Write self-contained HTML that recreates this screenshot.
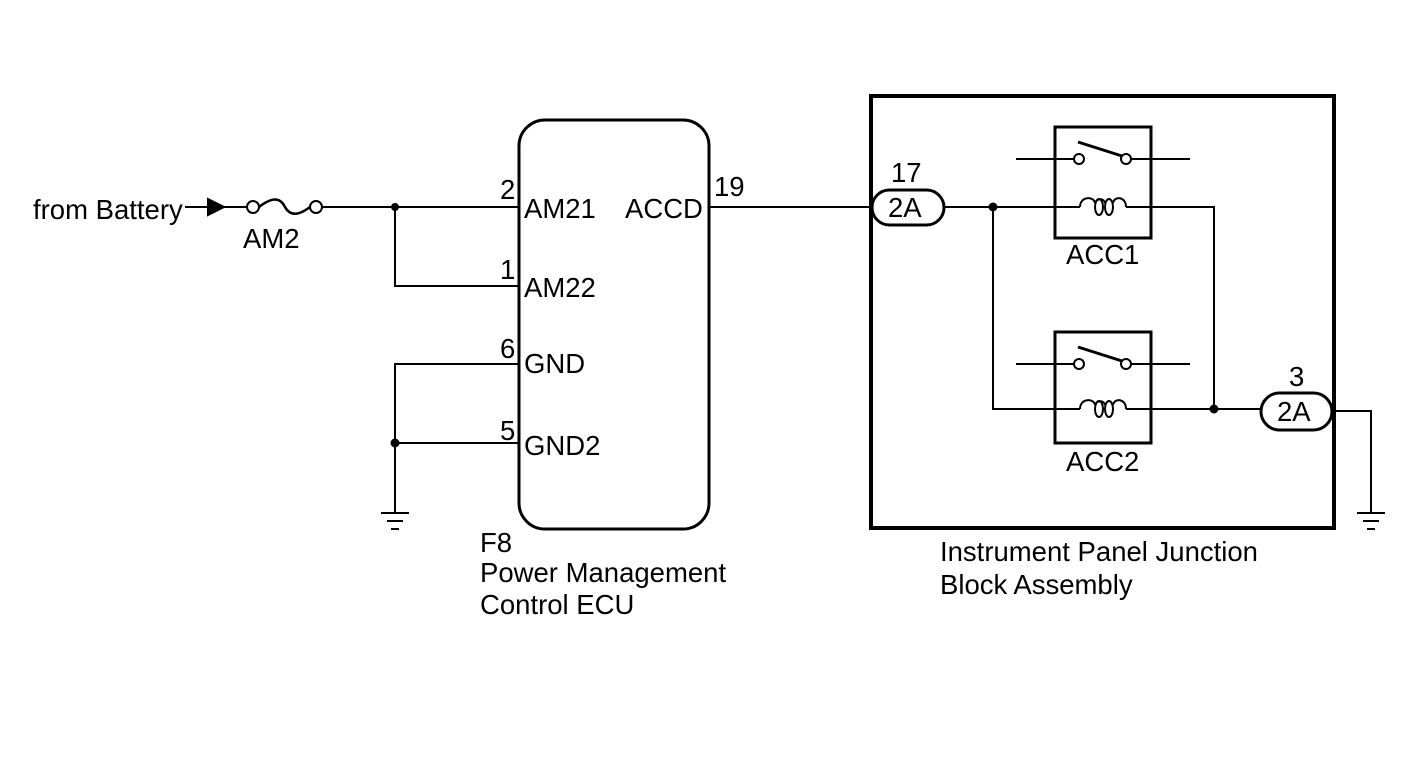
<!DOCTYPE html>
<html><head><style>
body{margin:0;background:#fff}
svg{display:block}
text{font-family:"Liberation Sans",Arial,sans-serif;fill:#000}
</style></head><body>
<svg width="1424" height="759" viewBox="0 0 1424 759" xmlns="http://www.w3.org/2000/svg">
<g stroke="#000" fill="none" stroke-width="2">
<line x1="185" y1="207" x2="247" y2="207"/>
<polygon points="208,199 224,207 208,215" fill="#000"/>
<circle cx="253" cy="207" r="6"/>
<circle cx="316" cy="207" r="6"/>
<path d="M259,207 C272,197 280,197 285,207 C290,216 298,216 310,207" stroke-width="2.5"/>
<line x1="322" y1="207" x2="519" y2="207"/>
<polyline points="395,207 395,286 519,286"/>
<circle cx="395" cy="207" r="3" fill="#000"/>
<polyline points="519,364 395,364 395,513"/>
<line x1="395" y1="443" x2="519" y2="443"/>
<circle cx="395" cy="443" r="3.5" fill="#000"/>
<line x1="381" y1="513" x2="409" y2="513"/>
<line x1="387" y1="521" x2="403" y2="521"/>
<line x1="391" y1="529" x2="399" y2="529"/>
<rect x="519" y="120" width="190" height="409" rx="26" stroke-width="3"/>
<line x1="709" y1="207" x2="872" y2="207"/>
<rect x="871" y="96" width="463" height="432" stroke-width="4"/>
<rect x="872" y="190" width="72" height="35" rx="17.5" stroke-width="3"/>
<line x1="944" y1="207" x2="1080" y2="207"/>
<circle cx="993" cy="207" r="3.5" fill="#000"/>
<polyline points="993,207 993,409 1080,409"/>
<!-- relay 1 -->
<rect x="1055" y="127" width="96" height="111" stroke-width="3"/>
<line x1="1016" y1="159" x2="1074" y2="159"/>
<line x1="1131" y1="159" x2="1190" y2="159"/>
<circle cx="1079" cy="159" r="5"/>
<circle cx="1126" cy="159" r="5"/>
<line x1="1078" y1="142" x2="1122" y2="156" stroke-width="3"/>
<path d="M1080,207 C1080,196 1094,196 1095,203 M1113,203 C1114,196 1126,196 1126,207"/>
<ellipse cx="1099" cy="207" rx="4" ry="8"/>
<ellipse cx="1109" cy="207" rx="4" ry="8"/>
<path d="M1095,203 C1097,198 1104,198 1105,203"/>
<polyline points="1126,207 1214,207 1214,409"/>
<!-- relay 2 -->
<rect x="1055" y="332" width="96" height="111" stroke-width="3"/>
<line x1="1016" y1="364" x2="1074" y2="364"/>
<line x1="1131" y1="364" x2="1190" y2="364"/>
<circle cx="1079" cy="364" r="5"/>
<circle cx="1126" cy="364" r="5"/>
<line x1="1078" y1="347" x2="1122" y2="361" stroke-width="3"/>
<path d="M1080,409 C1080,398 1094,398 1095,405 M1113,405 C1114,398 1126,398 1126,409"/>
<ellipse cx="1099" cy="409" rx="4" ry="8"/>
<ellipse cx="1109" cy="409" rx="4" ry="8"/>
<path d="M1095,405 C1097,400 1104,400 1105,405"/>
<line x1="1126" y1="409" x2="1261" y2="409"/>
<circle cx="1214" cy="409" r="3.5" fill="#000"/>
<rect x="1261" y="393" width="71" height="37" rx="18.5" stroke-width="3"/>
<polyline points="1334,411 1371,411 1371,513"/>
<line x1="1357" y1="513" x2="1385" y2="513"/>
<line x1="1363" y1="521" x2="1379" y2="521"/>
<line x1="1367" y1="529" x2="1375" y2="529"/>
</g>
<g font-size="27.5">
<text x="33" y="219">from Battery</text>
<text x="243" y="248">AM2</text>
<text x="500" y="199">2</text>
<text x="524" y="218">AM21</text>
<text x="500" y="279">1</text>
<text x="524" y="297">AM22</text>
<text x="500" y="358">6</text>
<text x="524" y="373">GND</text>
<text x="500" y="440">5</text>
<text x="524" y="455">GND2</text>
<text x="625" y="218">ACCD</text>
<text x="714" y="196">19</text>
<text x="891" y="182">17</text>
<text x="888" y="217">2A</text>
<text x="1066" y="264">ACC1</text>
<text x="1066" y="471">ACC2</text>
<text x="1289" y="386">3</text>
<text x="1277" y="421">2A</text>
<text x="480" y="552">F8</text>
<text x="480" y="582">Power Management</text>
<text x="480" y="614">Control ECU</text>
<text x="940" y="561">Instrument Panel Junction</text>
<text x="940" y="594">Block Assembly</text>
</g>
</svg>
</body></html>
